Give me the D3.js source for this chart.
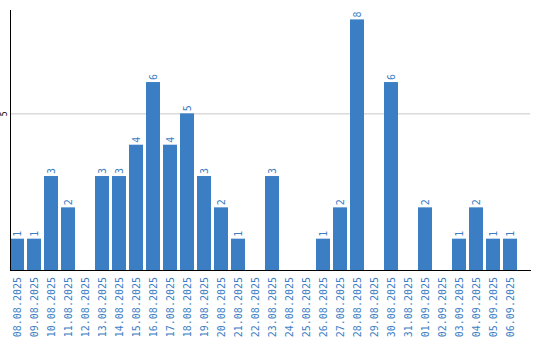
<!DOCTYPE html>
<html>
<head>
<meta charset="utf-8">
<script src="https://cdn.jsdelivr.net/npm/d3@7"></script>
<style>
  body { margin: 0; background: #fff; }
  svg { display: block; }
</style>
</head>
<body>
<div id="vis"></div>
<script>
const W = 540, H = 340;
const plot = { left: 10, right: 531, top: 10, bottom: 270 };

const dates = [
  '08.08.2025', '09.08.2025', '10.08.2025', '11.08.2025', '12.08.2025',
  '13.08.2025', '14.08.2025', '15.08.2025', '16.08.2025', '17.08.2025',
  '18.08.2025', '19.08.2025', '20.08.2025', '21.08.2025', '22.08.2025',
  '23.08.2025', '24.08.2025', '25.08.2025', '26.08.2025', '27.08.2025',
  '28.08.2025', '29.08.2025', '30.08.2025', '31.08.2025', '01.09.2025',
  '02.09.2025', '03.09.2025', '04.09.2025', '05.09.2025', '06.09.2025'
];
const counts = [1, 1, 3, 2, 0, 3, 3, 4, 6, 4, 5, 3, 2, 1, 0, 3, 0, 0, 1, 2, 8, 0, 6, 0, 2, 0, 1, 2, 1, 1];
const yTicks = [5];

const blue = '#3b7ec4';
const font = '"DejaVu Sans Mono", monospace';

const svg = d3.select('#vis')
    .append('svg')
    .attr('width', W)
    .attr('height', H);

const x = d3.scaleBand()
    .domain(dates)
    .range([plot.left, plot.left + 17 * dates.length - 3])
    .paddingInner(3 / 17)
    .paddingOuter(0);

const y = d3.scaleLinear()
    .domain([0, 8.3])
    .range([plot.bottom, plot.top]);

// gridline + tick label
const yAxis = svg.append('g')
    .attr('transform', `translate(${plot.left},0)`)
    .call(d3.axisLeft(y).tickValues(yTicks).tickSize(-(plot.right - 1 - plot.left)));
yAxis.select('.domain').remove();
yAxis.selectAll('.tick line').attr('stroke', '#c8c8c8');
yAxis.selectAll('.tick text')
    .attr('x', 0)
    .attr('transform', 'translate(-6,0) rotate(-90)')
    .style('text-anchor', 'middle')
    .attr('dy', '0.35em')
    .attr('fill', '#000')
    .style('font-family', font)
    .style('font-size', '8px');

// bars
svg.selectAll('.bar')
    .data(dates)
    .join('rect')
    .attr('class', 'bar')
    .attr('x', d => x(d))
    .attr('width', x.bandwidth())
    .attr('y', (d, i) => y(counts[i]))
    .attr('height', (d, i) => y(0) - y(counts[i]))
    .attr('fill', blue);

// value labels
svg.selectAll('.val')
    .data(dates.filter((d, i) => counts[i] > 0))
    .join('text')
    .attr('class', 'val')
    .attr('transform', d => `translate(${x(d) + x.bandwidth() / 2},${y(counts[dates.indexOf(d)]) - 2}) rotate(-90)`)
    .attr('dy', '0.35em')
    .style('text-anchor', 'start')
    .style('font-family', font)
    .style('font-size', '10px')
    .attr('fill', blue)
    .text(d => counts[dates.indexOf(d)]);

// x axis labels
const xAxis = svg.append('g')
    .attr('transform', `translate(0,${plot.bottom})`)
    .call(d3.axisBottom(x).tickSize(0));
xAxis.select('.domain').remove();
xAxis.selectAll('.tick text')
    .attr('y', 0)
    .attr('x', -7)
    .attr('dy', '0.35em')
    .attr('transform', 'rotate(-90)')
    .style('text-anchor', 'end')
    .style('font-family', font)
    .style('font-size', '10px')
    .attr('fill', blue);

// axis lines
svg.append('line')
    .attr('x1', plot.left + 0.5).attr('x2', plot.left + 0.5)
    .attr('y1', plot.top).attr('y2', plot.bottom + 1)
    .attr('stroke', '#000');
svg.append('line')
    .attr('x1', plot.left).attr('x2', plot.right)
    .attr('y1', plot.bottom + 0.5).attr('y2', plot.bottom + 0.5)
    .attr('stroke', '#000');
</script>
</body>
</html>
